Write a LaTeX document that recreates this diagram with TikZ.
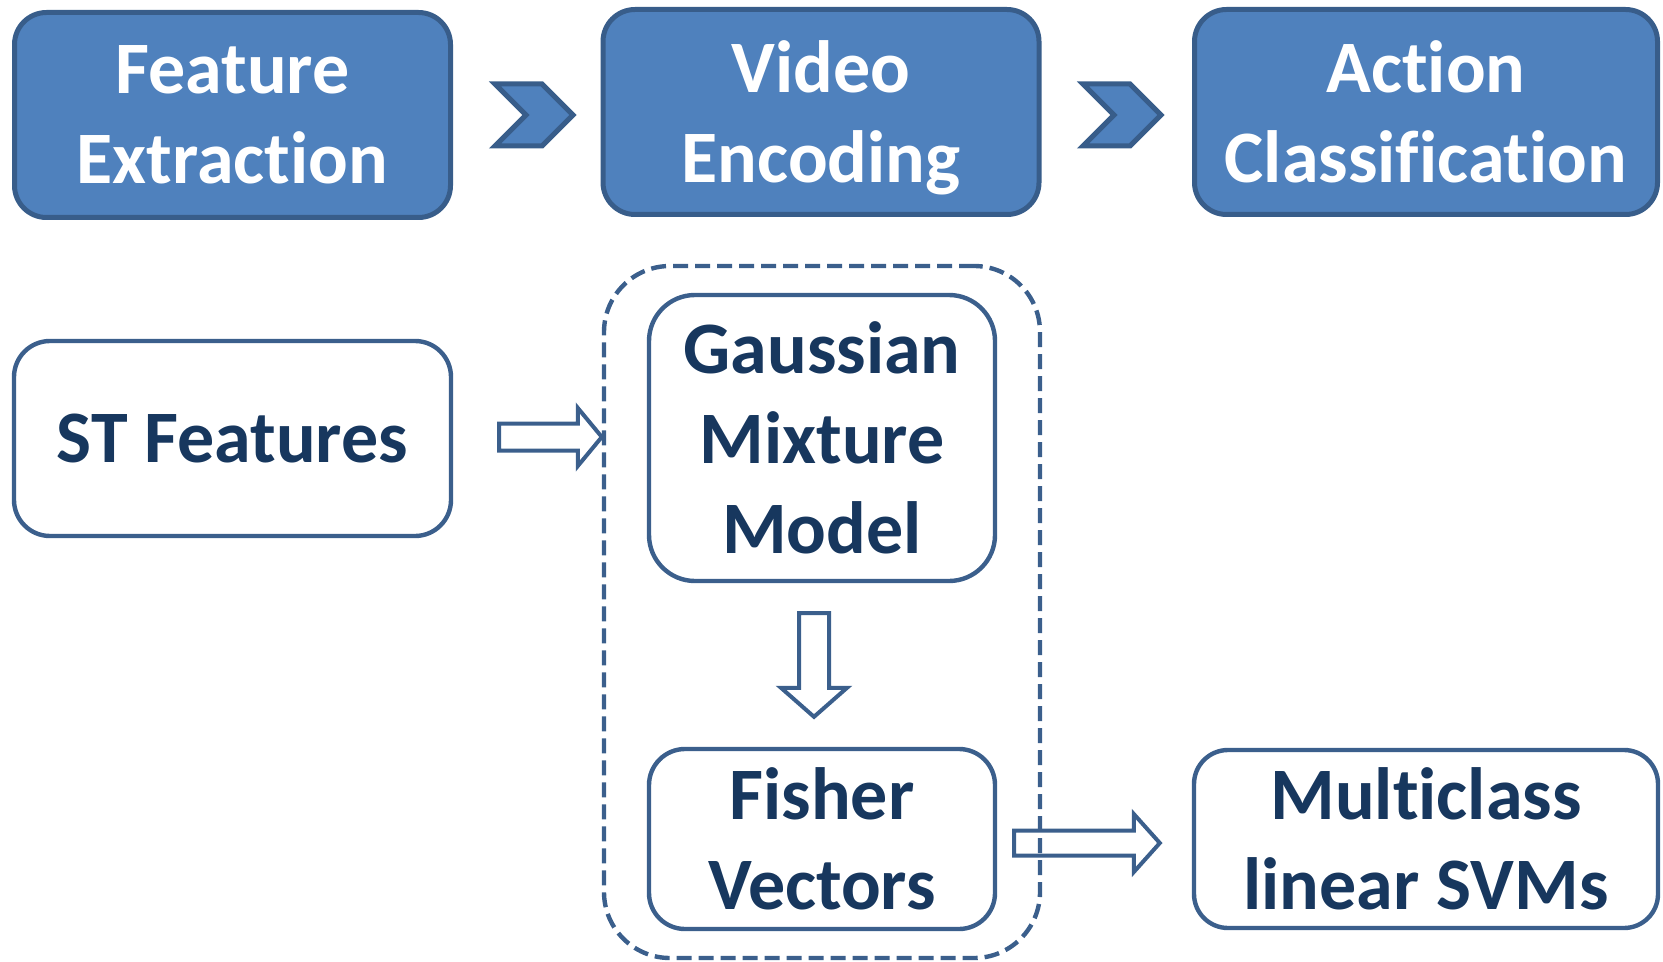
\documentclass[tikz,border=0pt]{standalone}
\usepackage{fontspec}
\setmainfont{Carlito}[Ligatures=NoCommon]
\usetikzlibrary{calc}
\definecolor{topfill}{HTML}{4F81BD}
\definecolor{topborder}{HTML}{385D8A}
\definecolor{lowborder}{HTML}{3B5F8C}
\definecolor{navy}{HTML}{17375E}
\tikzset{
  boxtext/.style={font=\bfseries\fontsize{37}{45}\selectfont, align=center, text depth=0pt, inner sep=0pt},
  topbox/.style={boxtext, draw=topborder, fill=topfill, line width=2.5pt, text=white, rounded corners=16pt},
  lowbox/.style={boxtext, draw=lowborder, fill=white, line width=2.2pt, text=navy},
  dashbox/.style={draw=lowborder, line width=2.2pt, dash pattern=on 7.5pt off 3.5pt, rounded corners=33pt, inner sep=0pt},
  chevshape/.style={draw=topborder, fill=topfill, line width=2.5pt, line join=miter},
  blockarrow/.style={draw=lowborder, line width=2pt, line join=miter},
  chev/.pic={
    \path[chevshape] (0,-31) -- (47,-31) -- (78,0) -- (47,31) -- (0,31) -- (31,0) -- cycle;
  }
}
\begin{document}
\begin{tikzpicture}[x=0.5pt,y=-0.5pt]
\useasboundingbox (0,0) rectangle (1663,962);
% top row
\node[topbox, minimum width=218pt, minimum height=102.5pt] (fe) at (232.5,115) {Feature\\Extraction};
\node[topbox, minimum width=218pt, minimum height=102.5pt] (ve) at (821,112) {Video\\Encoding};
\node[topbox, minimum width=231.5pt, minimum height=102.5pt] (ac) at (1426,112) {Action\\Classification};
\pic at (495,115) {chev};
\pic at (1083,115) {chev};
% lower row
\node[lowbox, rounded corners=18pt, minimum width=218.5pt, minimum height=97.5pt] (st) at (232.5,438.5) {ST Features};
\node[dashbox, minimum width=218pt, minimum height=346pt] (dash) at (822,612) {};
\node[lowbox, rounded corners=23pt, minimum width=173pt, minimum height=143pt] (gmm) at (822,438) {Gaussian\\Mixture\\Model};
\node[lowbox, rounded corners=18pt, minimum width=173pt, minimum height=90pt] (fv) at (822,839) {Fisher\\Vectors};
\node[lowbox, rounded corners=17pt, minimum width=232pt, minimum height=89pt] (mc) at (1426,839) {Multiclass\\linear SVMs};
% block arrows
\coordinate (a1s) at ($(st.east)+(46,-1.5)$);
\coordinate (a1t) at ($(dash.west |- st.east)+(0,-1.5)$);
\draw[blockarrow] ($(a1s)+(0,-13.5)$) -- ($(a1t)+(-24,-13.5)$) -- ($(a1t)+(-24,-29)$) -- (a1t)
  -- ($(a1t)+(-24,29)$) -- ($(a1t)+(-24,13.5)$) -- ($(a1s)+(0,13.5)$) -- cycle;
\coordinate (a2s) at ($(gmm.south)+(-8,30)$);
\coordinate (a2t) at ($(fv.north)+(-8,-30)$);
\draw[blockarrow] ($(a2s)+(-15,0)$) -- ($(a2t)+(-15,-29)$) -- ($(a2t)+(-33,-29)$) -- (a2t)
  -- ($(a2t)+(33,-29)$) -- ($(a2t)+(15,-29)$) -- ($(a2s)+(15,0)$) -- cycle;
\coordinate (a3s) at ($(fv.east)+(17,4)$);
\coordinate (a3t) at ($(mc.west)+(-32,4)$);
\draw[blockarrow] ($(a3s)+(0,-12.5)$) -- ($(a3t)+(-26,-12.5)$) -- ($(a3t)+(-26,-29)$) -- (a3t)
  -- ($(a3t)+(-26,29)$) -- ($(a3t)+(-26,12.5)$) -- ($(a3s)+(0,12.5)$) -- cycle;
\end{tikzpicture}
\end{document}
